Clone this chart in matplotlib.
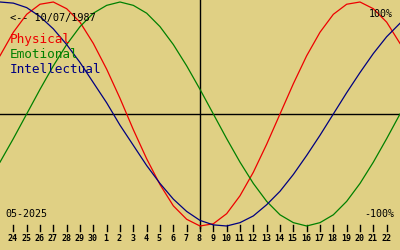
import matplotlib
matplotlib.use("Agg")
import matplotlib.pyplot as plt

# Data (percent, one value per day, Apr 23 .. May 23 2025)
day_labels = ["24", "25", "26", "27", "28", "29", "30", "1", "2", "3", "4", "5", "6", "7",
              "8", "9", "10", "11", "12", "13", "14", "15", "16", "17", "18", "19", "20",
              "21", "22"]
physical = [52, 73, 89, 98, 100, 94, 82, 63, 40, 14, -14, -40, -63, -82, -94, -100, -98,
            -89, -73, -52, -27, 0, 27, 52, 73, 89, 98, 100, 94, 82, 63]
emotional = [-43, -22, 0, 22, 43, 62, 78, 90, 97, 100, 97, 90, 78, 62, 43, 22, 0, -22,
             -43, -62, -78, -90, -97, -100, -97, -90, -78, -62, -43, -22, 0]
intellectual = [100, 99, 95, 87, 76, 62, 46, 28, 10, -10, -28, -46, -62, -76, -87, -95,
                -99, -100, -97, -91, -81, -69, -54, -37, -19, 0, 19, 37, 54, 69, 81]
series_names = ["Physical", "Emotional", "Intellectual"]
birth_text = "<-- 10/07/1987"
month_text = "05-2025"

BG = "#e0d084"
RED = "#ee0000"
GREEN = "#008000"
BLUE = "#000080"
DPI = 100
W, H = 400, 250

fig = plt.figure(figsize=(W / DPI, H / DPI), dpi=DPI, facecolor=BG)
ax = fig.add_axes([0, 0, 1, 1])
ax.set_facecolor(BG)
ax.axis("off")

ZERO, AMP = 114.0, 112.0
def py(p):
    """figure pixel row -> data y"""
    return (ZERO - p) / AMP

n = len(physical)
ax.set_xlim(0, (n - 1))
ax.set_ylim(py(H), py(0))

xs = list(range(n))
lw = 0.9
ax.axhline(0, color="black", lw=1.0, zorder=1)
ax.plot([15, 15], [py(0), py(228)], color="black", lw=1.0, zorder=1)
ax.plot(xs, [v / 100 for v in physical], color=RED, lw=lw, zorder=3)
ax.plot(xs, [v / 100 for v in emotional], color=GREEN, lw=lw, zorder=3)
ax.plot(xs, [v / 100 for v in intellectual], color=BLUE, lw=lw, zorder=3)

mono = "DejaVu Sans Mono"
# x-axis ticks and labels
for k, lab in enumerate(day_labels, start=1):
    ax.plot([k, k], [py(225), py(231)], color="black", lw=1.0, clip_on=False)
    ax.text(k - 0.05, py(241), lab, ha="center", va="baseline", fontsize=6,
            family=mono, weight="bold", color="black")

xpx = (n - 1) / W
ax.text(10 * xpx, py(21), birth_text, ha="left", va="baseline", fontsize=7.4,
        family=mono, color="black")
for name, col, base in zip(series_names, [RED, GREEN, BLUE], [43, 58, 73]):
    ax.text(10 * xpx, py(base), name, ha="left", va="baseline", fontsize=9.2,
            family=mono, color=col)
ax.text(393 * xpx, py(17), "100%", ha="right", va="baseline", fontsize=7.2,
        family=mono, color="black")
ax.text(394 * xpx, py(217), "-100%", ha="right", va="baseline", fontsize=7.2,
        family=mono, color="black")
ax.text(5 * xpx, py(217), month_text, ha="left", va="baseline", fontsize=7.2,
        family=mono, color="black")

fig.savefig("out.png", dpi=DPI, facecolor=BG)
